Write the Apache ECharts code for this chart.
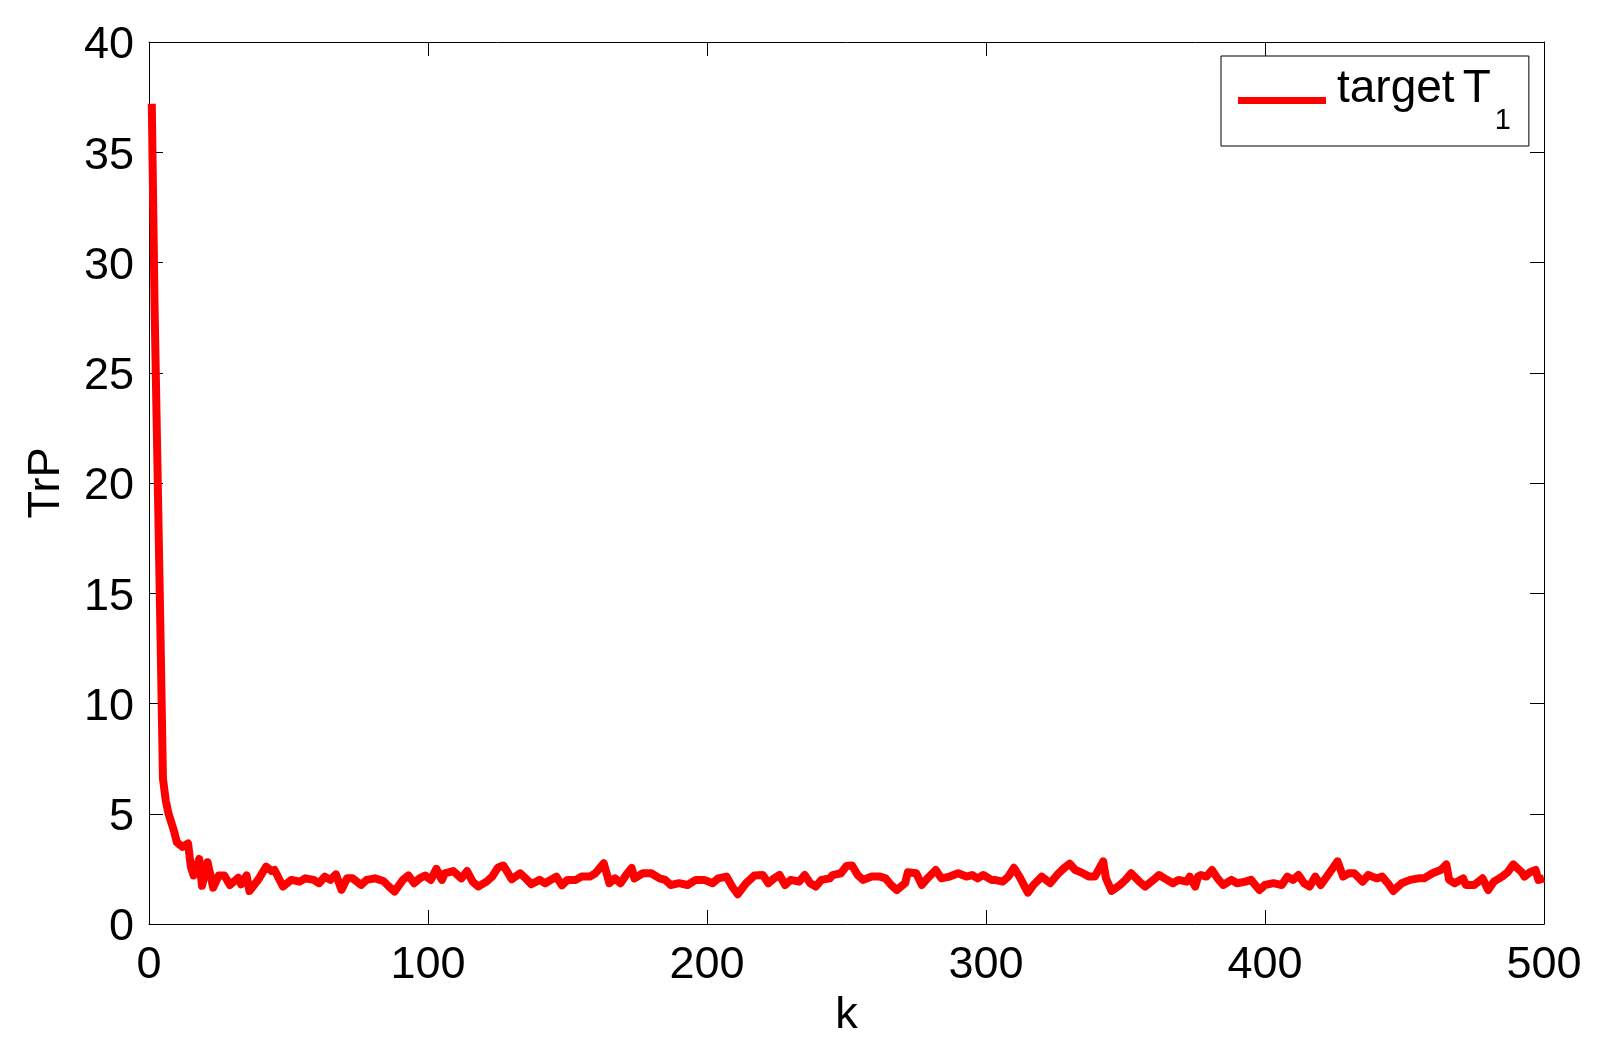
<!DOCTYPE html>
<html>
<head>
<meta charset="utf-8">
<title>TrP vs k</title>
<script src="https://cdn.jsdelivr.net/npm/echarts@6/dist/echarts.min.js"></script>
<style>
  html,body{margin:0;padding:0;background:#fff;}
  #main{width:1604px;height:1051px;}
</style>
</head>
<body>
<div id="main"></div>
<script>
const kSteps = [1,2,3,4,5,6,7,8,9,10,12,14,15,16,18,19,21,23,25,27,29,32,33,35,36,39,42,44,45,48,
  51,54,56,59,61,63,65,67,69,71,73,76,78,81,84,86,88,91,93,95,97,99,101,103,105,106,109,112,114,116,
  118,121,123,125,127,128,130,133,135,137,140,142,146,148,150,153,155,158,160,162,163,165,167,169,171,173,174,177,180,183,
  185,187,190,193,196,199,202,204,207,209,211,214,217,220,222,224,226,228,230,233,235,237,239,241,244,245,248,250,252,254,
  256,259,262,264,266,268,271,272,275,277,279,282,284,287,290,293,295,297,299,302,303,306,308,310,312,315,317,320,323,326,
  328,330,332,334,337,339,342,343,345,348,350,352,355,357,360,362,364,367,369,372,373,375,376,377,379,381,383,385,388,390,
  393,395,398,400,403,406,408,410,412,414,416,418,420,423,426,428,430,432,435,437,440,442,444,446,449,452,455,457,460,463,
  465,466,468,471,472,475,478,480,482,485,487,489,492,493,495,497,498,500];
// trace of P for target T1
const trP = [37.2,28,21,14,6.6,5.6,5.0,4.6,4.2,3.7,3.5,3.65,2.6,2.2,2.95,1.73,2.8,1.65,2.2,2.2,1.77,2.1,1.8,2.2,1.5,1.98,2.6,2.4,2.45,1.7,
  2.0,1.92,2.07,2.0,1.85,2.15,2.0,2.25,1.55,2.07,2.07,1.77,2.0,2.07,1.95,1.7,1.47,2.0,2.2,1.85,2.07,2.2,2.0,2.5,2.0,2.3,2.4,2.07,2.4,1.92,
  1.7,1.92,2.15,2.55,2.65,2.45,2.03,2.3,2.07,1.8,2.0,1.85,2.15,1.75,2.0,2.0,2.15,2.15,2.3,2.6,2.75,1.85,2.07,1.85,2.22,2.54,2.07,2.3,2.3,2.07,
  2.0,1.77,1.85,1.77,2.0,2.0,1.85,2.07,2.15,1.7,1.35,1.85,2.2,2.22,1.85,2.07,2.22,1.77,2.0,1.92,2.22,1.85,1.7,2.0,2.07,2.22,2.3,2.63,2.65,2.22,
  2.0,2.15,2.15,2.07,1.77,1.54,1.85,2.35,2.3,1.77,2.07,2.45,2.07,2.15,2.3,2.15,2.22,2.07,2.22,2.0,2.0,1.92,2.15,2.55,2.15,1.42,1.77,2.15,1.85,2.3,
  2.54,2.73,2.45,2.35,2.15,2.15,2.84,2.07,1.5,1.77,2.0,2.3,1.92,1.7,2.0,2.22,2.07,1.85,2.0,1.92,2.15,1.7,2.15,2.22,2.15,2.45,2.07,1.77,2.0,1.85,
  1.92,2.0,1.54,1.77,1.85,1.77,2.15,2.0,2.22,1.85,1.7,2.15,1.77,2.3,2.84,2.15,2.3,2.3,1.92,2.22,2.07,2.15,1.85,1.5,1.85,2.0,2.07,2.07,2.3,2.45,
  2.7,2.0,1.85,2.07,1.77,1.77,2.07,1.54,1.92,2.15,2.35,2.7,2.35,2.15,2.35,2.45,2.0,2.07];
const xTicks = [0,100,200,300,400,500];
const yTicks = [0,5,10,15,20,25,30,35,40];

const chart = echarts.init(document.getElementById('main'));
const font = "'Liberation Sans', Arial, Helvetica, sans-serif";
// fresh objects for every axis, ticks point into the plot like matlab
const tick = ()=>({show:true, inside:true, length:14, lineStyle:{color:'#000', width:1}});
const line = ()=>({show:true, onZero:false, lineStyle:{color:'#000', width:1}});

let option = {
  backgroundColor:'#fff',
  animation:false,
  grid:{left:149, right:60, top:42, bottom:127},
  legend:{
    left:1221, top:56,
    orient:'horizontal',
    icon:'rect',
    itemWidth:88, itemHeight:7, itemGap:0,
    padding:[10,18,11,17],
    borderColor:'#000', borderWidth:1,
    backgroundColor:'#fff',
    textStyle:{
      fontFamily:font, color:'#000',
      rich:{
        a:{fontFamily:font, fontSize:46, color:'#000', verticalAlign:'top', padding:[0,0,0,6]},
        t:{fontFamily:font, fontSize:46, color:'#000', verticalAlign:'top', padding:[0,0,0,8]},
        b:{fontFamily:font, fontSize:29, color:'#000', verticalAlign:'bottom', padding:[40,0,0,4]}
      }
    },
    formatter:()=>'{a|target}{t|T}{b|1}'
  },
  xAxis:[
    {
      type:'value', min:0, max:500, interval:100, position:'bottom',
      name:'k', nameLocation:'middle', nameGap:65,
      nameTextStyle:{fontFamily:font, fontSize:45, color:'#000'},
      axisLine:line(), axisTick:tick(), splitLine:{show:false},
      axisLabel:{fontFamily:font, fontSize:45, color:'#000', margin:19,
        customValues:xTicks, formatter:v=>String(v)}
    },
    {
      type:'value', min:0, max:500, interval:100, position:'top',
      axisLine:line(), axisTick:tick(), axisLabel:{show:false}, splitLine:{show:false}
    }
  ],
  yAxis:[
    {
      type:'value', min:0, max:40, interval:5, position:'left',
      name:'TrP', nameLocation:'middle', nameGap:80, nameRotate:90,
      nameTextStyle:{fontFamily:font, fontSize:45, color:'#000'},
      axisLine:line(), axisTick:tick(), splitLine:{show:false},
      axisLabel:{fontFamily:font, fontSize:45, color:'#000', margin:15,
        customValues:yTicks, formatter:v=>'{v|'+v+'}',
        rich:{v:{fontFamily:font, fontSize:45, color:'#000', padding:[8,0,0,0]}}}
    },
    {
      type:'value', min:0, max:40, interval:5, position:'right',
      axisLine:line(), axisTick:tick(), axisLabel:{show:false}, splitLine:{show:false}
    }
  ],
  series:[
    {
      name:'target T1',
      type:'line',
      data:kSteps.map((k,i)=>[k,trP[i]]),
      showSymbol:false,
      symbol:'none',
      lineStyle:{color:'#ff0000', width:8, join:'round', cap:'butt'},
      itemStyle:{color:'#ff0000'},
      clip:true
    }
  ]
};
chart.setOption(option);
</script>
</body>
</html>
